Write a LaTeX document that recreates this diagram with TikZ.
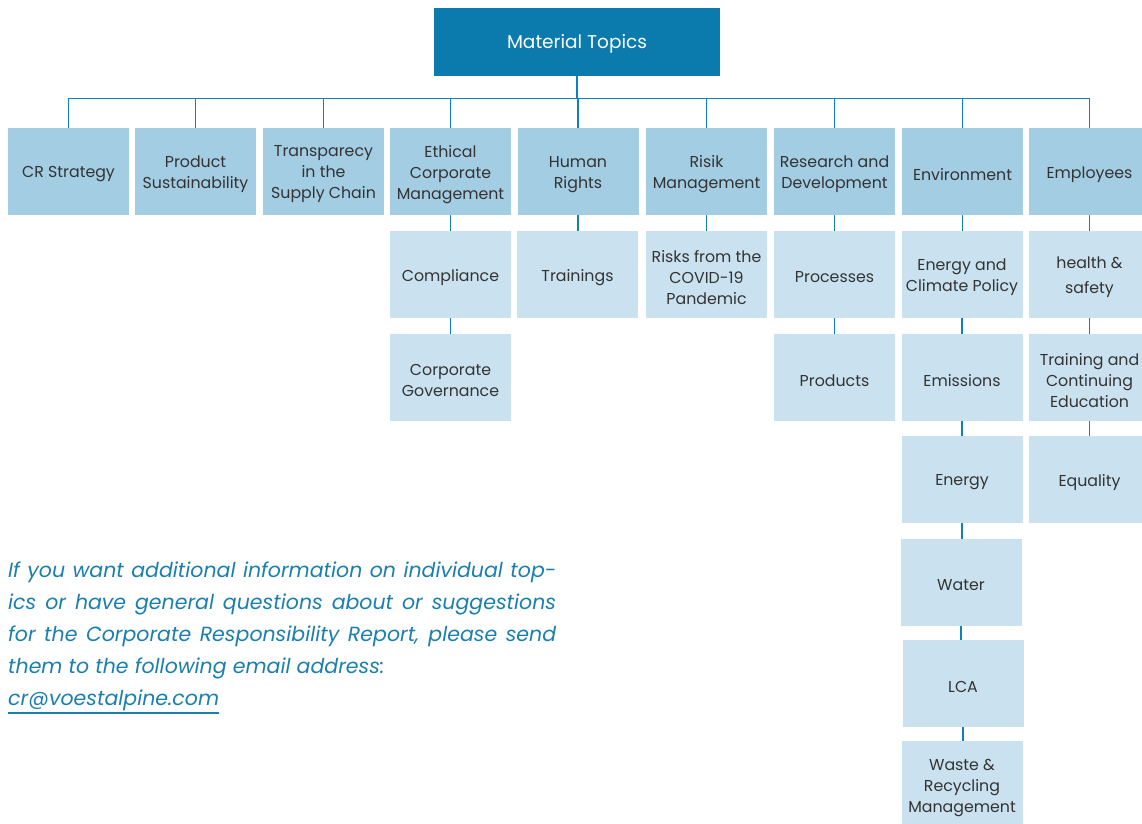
\documentclass[tikz,border=0pt]{standalone}
\usepackage{fontspec}
\setmainfont{Poppins}
\definecolor{topblue}{HTML}{0A7BAC}
\definecolor{lonec}{HTML}{A3CDE3}
\definecolor{ltwoc}{HTML}{CAE2EF}
\definecolor{linec}{HTML}{0B82BC}
\definecolor{txt}{HTML}{333333}
\definecolor{itc}{HTML}{1A7FB0}
\begin{document}
\begin{tikzpicture}[x=1pt,y=-1pt,
  box/.style={minimum width=121pt, minimum height=87pt, inner sep=0pt},
  lab/.style={yshift=-3pt, inner sep=0pt, align=center, text=txt, font=\fontsize{15.8}{21}\selectfont},
  lvla/.style={box, fill=lonec},
  lvlb/.style={box, fill=ltwoc},
  conn/.style={draw=linec, line width=1.3pt},
  para/.style={anchor=base west, inner sep=0pt, text=itc, font=\fontsize{20.5}{32}\selectfont\itshape}]
\useasboundingbox (0,0) rectangle (1142,823);
\clip (0,0) rectangle (1142,823);
% top
\node[fill=topblue, minimum width=286pt, minimum height=68pt, inner sep=0pt,
  label={[yshift=-2pt, inner sep=0pt, text=white, font=\fontsize{18.5}{23}\selectfont]center:Material Topics}] (top) at (577,42) {};
% level 1
\node[lvla, label={[lab]center:CR Strategy}] (cr) at (68.5,171.5) {};
\node[lvla, label={[lab]center:Product\\Sustainability}] (ps) at (195.5,171.5) {};
\node[lvla, label={[lab]center:Transparecy\\in the\\Supply Chain}] (tr) at (323.5,171.5) {};
\node[lvla, label={[lab]center:Ethical\\Corporate\\Management}] (ec) at (450.5,171.5) {};
\node[lvla, label={[lab]center:Human\\Rights}] (hr) at (578,171.5) {};
\node[lvla, label={[lab]center:Risik\\Management}] (rm) at (706.5,171.5) {};
\node[lvla, label={[lab]center:Research and\\Development}] (rd) at (834.5,171.5) {};
\node[lvla, label={[lab]center:Environment}] (en) at (962.5,171.5) {};
\node[lvla, label={[lab]center:Employees}] (em) at (1089.5,171.5) {};
% level 2+
\node[lvlb, label={[lab]center:Compliance}] (co) at (450.5,274.5) {};
\node[lvlb, label={[lab]center:Corporate\\Governance}] (cg) at (450.5,377.5) {};
\node[lvlb, label={[lab]center:Trainings}] (tn) at (577.5,274.5) {};
\node[lvlb, label={[lab]center:Risks from the\\COVID-19\\Pandemic}] (rc) at (706.5,274.5) {};
\node[lvlb, label={[lab]center:Processes}] (pr) at (834.5,274.5) {};
\node[lvlb, label={[lab]center:Products}] (pd) at (834.5,377.5) {};
\node[lvlb, label={[lab]center:Energy and\\Climate Policy}] (ecp) at (962,274.5) {};
\node[lvlb, label={[lab]center:Emissions}] (ems) at (962,377.5) {};
\node[lvlb, label={[lab]center:Energy}] (eng) at (962,479.5) {};
\node[lvlb, label={[lab]center:Water}] (wat) at (961,582.5) {};
\node[lvlb, label={[lab]center:LCA}] (lca) at (963,683.5) {};
\node[lvlb, label={[lab]center:Waste \&\\Recycling\\Management}] (was) at (962,784.5) {};
\node[lvlb, label={[lab]center:health \&\\[4pt]safety}] (hs) at (1089.5,274.5) {};
\node[lvlb, label={[lab]center:Training and\\Continuing\\Education}] (tce) at (1089.5,377.5) {};
\node[lvlb, label={[lab]center:Equality}] (eq) at (1089.5,479.5) {};
% connectors from top
\foreach \c in {cr,ps,tr,ec,hr,rm,rd,en,em}
  \draw[conn] (top.south) -- ++(0,22) -| (\c.north);
% vertical connectors
\foreach \a/\b in {ec/co,co/cg,hr/tn,rm/rc,rd/pr,pr/pd,en/ecp,ecp/ems,ems/eng,eng/wat,wat/lca,lca/was,em/hs,hs/tce,tce/eq}
  \draw[conn] (\a.south) -- (\a.south |- \b.north);
% paragraph
\node[para] (p1) at (8,577) {\makebox[548pt][s]{If you want additional information on individual top-}};
\node[para] (p2) at (8,609) {\makebox[548pt][s]{ics or have general questions about or suggestions}};
\node[para] (p3) at (8,641) {\makebox[548pt][s]{for the Corporate Responsibility Report, please send}};
\node[para] (p4) at (8,673) {them to the following email address:};
\node[para] (p5) at (8,705) {cr@voestalpine.com};
\draw[draw=itc, line width=1.3pt] ([yshift=-8pt]p5.base west) -- ([yshift=-8pt]p5.base east);
\end{tikzpicture}
\end{document}
